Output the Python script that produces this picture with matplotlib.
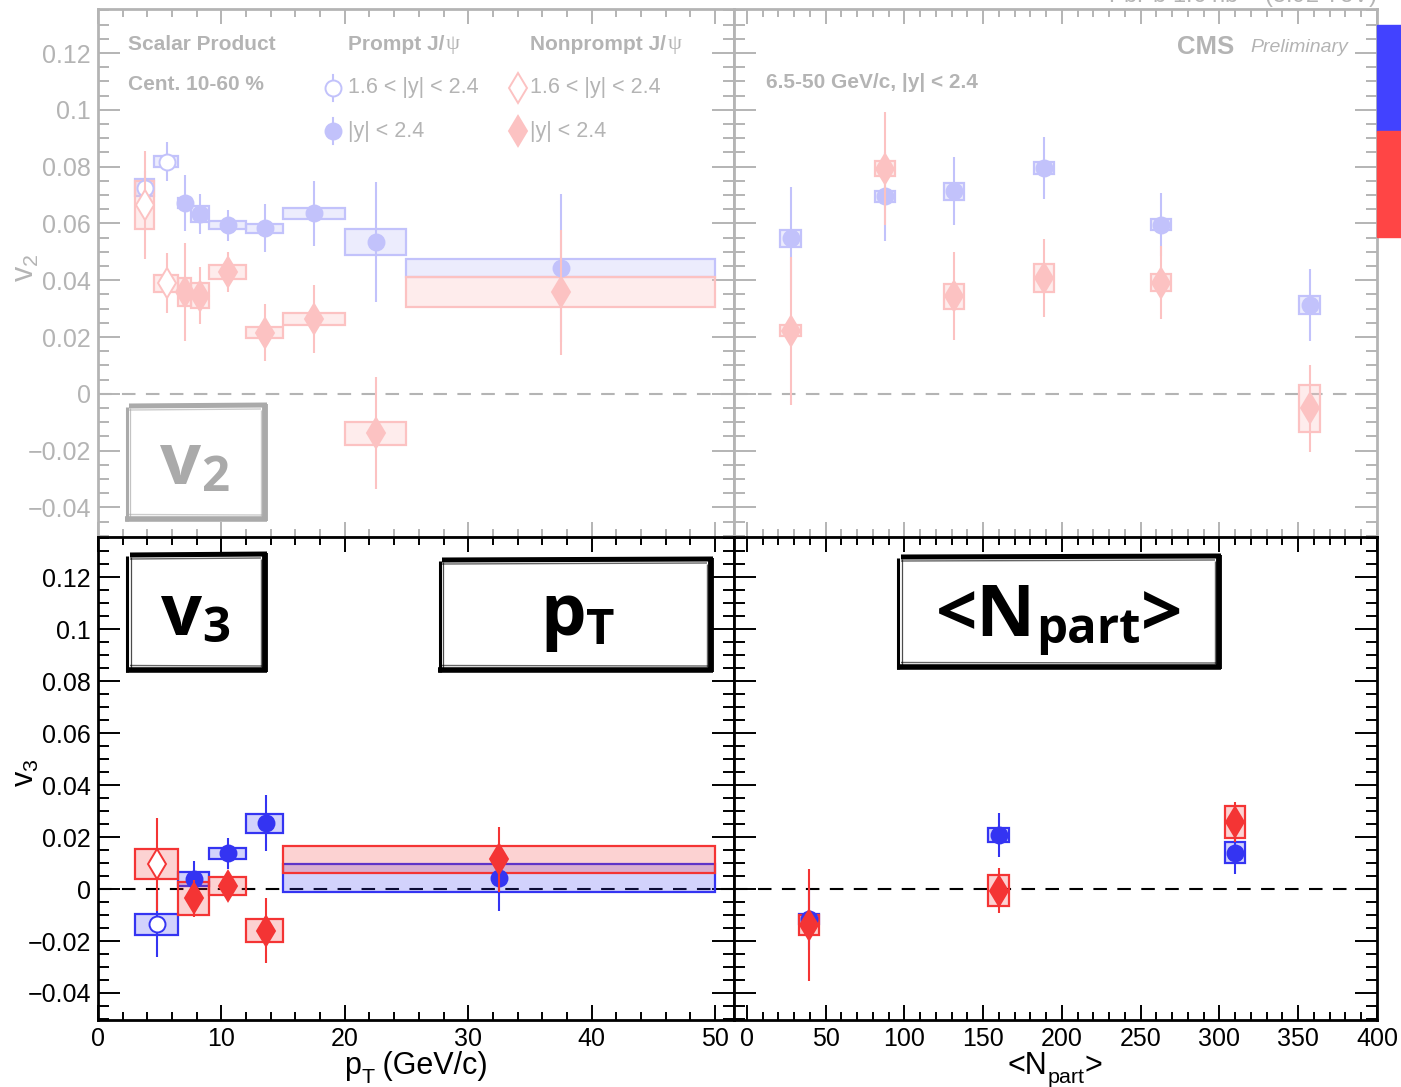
import matplotlib
matplotlib.use("Agg")
import matplotlib.pyplot as plt
from matplotlib.patches import Rectangle
from matplotlib.lines import Line2D
from matplotlib.ticker import MultipleLocator, FuncFormatter, NullFormatter

plt.rcParams['font.family'] = ['Liberation Sans', 'DejaVu Sans']

# ---------------- data ----------------
# v2 vs pT, forward rapidity 1.6<|y|<2.4
v2_pt_fwd = [3.8, 5.6]
v2_pt_fwd_lo = [3.0, 4.5]
v2_pt_fwd_hi = [4.5, 6.5]
v2_pt_fwd_prompt = [0.0725, 0.0818]
v2_pt_fwd_prompt_stat = [0.006, 0.0067]
v2_pt_fwd_prompt_sys = [0.003, 0.0018]
v2_pt_fwd_nonprompt = [0.0664, 0.039]
v2_pt_fwd_nonprompt_stat = [0.019, 0.0107]
v2_pt_fwd_nonprompt_sys = [0.0084, 0.003]

# v2 vs pT, |y|<2.4
v2_pt_mid = [7.05, 8.27, 10.5, 13.5, 17.5, 22.5, 37.5]
v2_pt_mid_lo = [6.5, 7.5, 9, 12, 15, 20, 25]
v2_pt_mid_hi = [7.5, 9, 12, 15, 20, 25, 50]
v2_pt_mid_prompt = [0.0672, 0.0633, 0.0593, 0.0583, 0.0635, 0.0535, 0.0443]
v2_pt_mid_prompt_stat = [0.0097, 0.0069, 0.0054, 0.0084, 0.0115, 0.021, 0.026]
v2_pt_mid_prompt_sys = [0.0018, 0.0029, 0.0014, 0.0015, 0.0021, 0.0046, 0.0033]
v2_pt_mid_nonprompt = [0.0358, 0.0346, 0.0429, 0.0216, 0.0265, -0.0139, 0.0358]
v2_pt_mid_nonprompt_stat = [0.0173, 0.0101, 0.007, 0.0099, 0.012, 0.0197, 0.022]
v2_pt_mid_nonprompt_sys = [0.0049, 0.0045, 0.0025, 0.002, 0.0021, 0.004, 0.0052]

# v2 vs <Npart>
v2_npart = [27.8, 87.8, 131.6, 188.6, 262.8, 357.3]
v2_npart_prompt = [0.0547, 0.0695, 0.0713, 0.0796, 0.0596, 0.0313]
v2_npart_prompt_stat = [0.0183, 0.0157, 0.012, 0.011, 0.011, 0.0127]
v2_npart_prompt_sys = [0.003, 0.0019, 0.0031, 0.0022, 0.0019, 0.0033]
v2_npart_nonprompt = [0.0222, 0.0793, 0.0344, 0.0407, 0.0392, -0.0051]
v2_npart_nonprompt_stat = [0.026, 0.02, 0.0154, 0.0138, 0.013, 0.0153]
v2_npart_nonprompt_sys = [0.002, 0.0027, 0.0044, 0.0049, 0.0029, 0.0082]

# v3 vs pT, forward rapidity
v3_pt_fwd = [4.8]
v3_pt_fwd_lo = [3.0]
v3_pt_fwd_hi = [6.5]
v3_pt_fwd_prompt = [-0.0135]
v3_pt_fwd_prompt_stat = [0.0125]
v3_pt_fwd_prompt_sys = [0.004]
v3_pt_fwd_nonprompt = [0.0095]
v3_pt_fwd_nonprompt_stat = [0.018]
v3_pt_fwd_nonprompt_sys = [0.0058]

# v3 vs pT, |y|<2.4
v3_pt_mid = [7.8, 10.56, 13.6, 32.5]
v3_pt_mid_lo = [6.5, 9, 12, 15]
v3_pt_mid_hi = [9, 12, 15, 50]
v3_pt_mid_prompt = [0.0038, 0.0137, 0.0253, 0.0043]
v3_pt_mid_prompt_stat = [0.007, 0.0058, 0.0108, 0.0126]
v3_pt_mid_prompt_sys = [0.0026, 0.0022, 0.0037, 0.0054]
v3_pt_mid_nonprompt = [-0.0036, 0.0012, -0.016, 0.0114]
v3_pt_mid_nonprompt_stat = [0.007, 0.0057, 0.0125, 0.0126]
v3_pt_mid_nonprompt_sys = [0.0062, 0.0033, 0.0043, 0.0053]

# v3 vs <Npart>
v3_npart = [39.5, 159.8, 309.8]
v3_npart_prompt = [-0.0115, 0.0208, 0.014]
v3_npart_prompt_stat = [0.012, 0.0085, 0.0082]
v3_npart_prompt_sys = [0.002, 0.0028, 0.004]
v3_npart_nonprompt = [-0.0138, -0.0006, 0.0258]
v3_npart_nonprompt_stat = [0.0217, 0.0086, 0.0077]
v3_npart_nonprompt_sys = [0.004, 0.0061, 0.006]

NPART_HALF_WIDTH = 6.5

# ---------------- style ----------------
W, H = 1401, 1087
BLUE = '#3434f2'
RED = '#f43434'
GRAY = '#b4b4b4'


def blend(c, f):
    r, g, b = matplotlib.colors.to_rgb(c)
    return (1 - f + f * r, 1 - f + f * g, 1 - f + f * b)


def fx(px):
    return px / W


def fy(py):
    return 1 - py / H


fig = plt.figure(figsize=(W / 100, H / 100), dpi=100)
renderer = fig.canvas.get_renderer()

XL0, XMID, XR1 = 98, 734, 1377
YT0, YMID, YB1 = 9, 537, 1020
ax_tl = fig.add_axes([fx(XL0), fy(YMID), (XMID - XL0) / W, (YMID - YT0) / H])
ax_tr = fig.add_axes([fx(XMID), fy(YMID), (XR1 - XMID) / W, (YMID - YT0) / H])
ax_bl = fig.add_axes([fx(XL0), fy(YB1), (XMID - XL0) / W, (YB1 - YMID) / H])
ax_br = fig.add_axes([fx(XMID), fy(YB1), (XR1 - XMID) / W, (YB1 - YMID) / H])

YLIM = (-0.0504, 0.1355)


def yfmt(v, pos):
    v = round(v, 5)
    if abs(v) < 1e-9:
        return '0'
    return ('%g' % v).replace('-', '\u2212')


def style(ax, faded, xmaj, xmin, xlim, show_x, show_y):
    col = GRAY if faded else 'black'
    ax.set_xlim(*xlim)
    ax.set_ylim(*YLIM)
    ax.xaxis.set_major_locator(MultipleLocator(xmaj))
    ax.xaxis.set_minor_locator(MultipleLocator(xmin))
    ax.yaxis.set_major_locator(MultipleLocator(0.02))
    ax.yaxis.set_minor_locator(MultipleLocator(0.005))
    ax.yaxis.set_major_formatter(FuncFormatter(yfmt))
    for s in ax.spines.values():
        s.set_color(col)
        s.set_linewidth(2.0)
    ax.tick_params(axis='both', which='both', direction='in', top=True, right=True,
                   color=col, labelcolor=col, width=1.4, labelsize=18, pad=5)
    ax.tick_params(axis='y', which='major', length=15.5)
    ax.tick_params(axis='y', which='minor', length=8)
    ax.tick_params(axis='x', which='major', length=10.5)
    ax.tick_params(axis='x', which='minor', length=5.5)
    if not show_x:
        ax.xaxis.set_major_formatter(NullFormatter())
    if not show_y:
        ax.yaxis.set_major_formatter(NullFormatter())
    ax.axhline(0, color=col, lw=1.5, ls=(0, (6.5, 5)), zorder=1)


style(ax_tl, True, 10, 2, (0, 51.54), False, True)
style(ax_tr, True, 50, 10, (-8.2, 400), False, False)
style(ax_bl, False, 10, 2, (0, 51.54), True, True)
style(ax_br, False, 50, 10, (-8.2, 400), True, False)


def boxes(ax, x, lo, hi, y, sys, edge, fill):
    for xi, l, h, yi, s in zip(x, lo, hi, y, sys):
        ax.add_patch(Rectangle((l, yi - s), h - l, 2 * s, facecolor=fill,
                               edgecolor=edge, lw=1.6, zorder=2))


def points(ax, x, y, stat, color, marker, ms, hollow, z):
    ax.errorbar(x, y, yerr=stat, fmt='none', ecolor=color, elinewidth=1.5, zorder=z)
    ax.plot(x, y, ls='none', marker=marker, ms=ms, mec=color, mew=1.4,
            mfc='white' if hollow else color, zorder=z + 1)


def panel(ax, faded, sets):
    if faded:
        cb, cr = blend(BLUE, 0.3), blend(RED, 0.3)
        fb, fr = (*blend(BLUE, 0.3), 0.3), (*blend(RED, 0.3), 0.3)
    else:
        cb, cr = BLUE, RED
        fb, fr = (*matplotlib.colors.to_rgb(BLUE), 0.22), (*matplotlib.colors.to_rgb(RED), 0.22)
    for kind, x, lo, hi, y, stat, sys, hollow in sets:
        if kind == 'p':
            boxes(ax, x, lo, hi, y, sys, cb, fb)
    for kind, x, lo, hi, y, stat, sys, hollow in sets:
        if kind == 'n':
            boxes(ax, x, lo, hi, y, sys, cr, fr)
    for kind, x, lo, hi, y, stat, sys, hollow in sets:
        if kind == 'p':
            points(ax, x, y, stat, cb, 'o', 11.5, hollow, 4)
    for kind, x, lo, hi, y, stat, sys, hollow in sets:
        if kind == 'n':
            points(ax, x, y, stat, cr, 'd', 15, hollow, 6)


def nbins(x):
    return [v - NPART_HALF_WIDTH for v in x], [v + NPART_HALF_WIDTH for v in x]


panel(ax_tl, True, [
    ('p', v2_pt_fwd, v2_pt_fwd_lo, v2_pt_fwd_hi, v2_pt_fwd_prompt, v2_pt_fwd_prompt_stat, v2_pt_fwd_prompt_sys, True),
    ('p', v2_pt_mid, v2_pt_mid_lo, v2_pt_mid_hi, v2_pt_mid_prompt, v2_pt_mid_prompt_stat, v2_pt_mid_prompt_sys, False),
    ('n', v2_pt_fwd, v2_pt_fwd_lo, v2_pt_fwd_hi, v2_pt_fwd_nonprompt, v2_pt_fwd_nonprompt_stat, v2_pt_fwd_nonprompt_sys, True),
    ('n', v2_pt_mid, v2_pt_mid_lo, v2_pt_mid_hi, v2_pt_mid_nonprompt, v2_pt_mid_nonprompt_stat, v2_pt_mid_nonprompt_sys, False),
])
lo2, hi2 = nbins(v2_npart)
panel(ax_tr, True, [
    ('p', v2_npart, lo2, hi2, v2_npart_prompt, v2_npart_prompt_stat, v2_npart_prompt_sys, False),
    ('n', v2_npart, lo2, hi2, v2_npart_nonprompt, v2_npart_nonprompt_stat, v2_npart_nonprompt_sys, False),
])
panel(ax_bl, False, [
    ('p', v3_pt_fwd, v3_pt_fwd_lo, v3_pt_fwd_hi, v3_pt_fwd_prompt, v3_pt_fwd_prompt_stat, v3_pt_fwd_prompt_sys, True),
    ('p', v3_pt_mid, v3_pt_mid_lo, v3_pt_mid_hi, v3_pt_mid_prompt, v3_pt_mid_prompt_stat, v3_pt_mid_prompt_sys, False),
    ('n', v3_pt_fwd, v3_pt_fwd_lo, v3_pt_fwd_hi, v3_pt_fwd_nonprompt, v3_pt_fwd_nonprompt_stat, v3_pt_fwd_nonprompt_sys, True),
    ('n', v3_pt_mid, v3_pt_mid_lo, v3_pt_mid_hi, v3_pt_mid_nonprompt, v3_pt_mid_nonprompt_stat, v3_pt_mid_nonprompt_sys, False),
])
lo3, hi3 = nbins(v3_npart)
panel(ax_br, False, [
    ('p', v3_npart, lo3, hi3, v3_npart_prompt, v3_npart_prompt_stat, v3_npart_prompt_sys, False),
    ('n', v3_npart, lo3, hi3, v3_npart_nonprompt, v3_npart_nonprompt_stat, v3_npart_nonprompt_sys, False),
])


def compose(parts, xc, yb, size, color, zorder=5, **kw):
    """Lay out text pieces left to right, centred on xc, with per-piece
    scale and baseline drop (in pixels)."""
    objs = []
    for s, sc, drop in parts:
        t = fig.text(0, fy(yb + drop), s, fontsize=size * sc, ha='left', va='baseline',
                     color=color, zorder=zorder, **kw)
        objs.append(t)
    widths = [t.get_window_extent(renderer).width for t in objs]
    x = xc - sum(widths) / 2
    for t, w in zip(objs, widths):
        t.set_x(fx(x))
        x += w
    return objs


# ---------------- axis titles ----------------
fig.text(fx(26), fy(268), r'$\mathregular{v_{2}}$', rotation=90, ha='center', va='center',
         fontsize=22, color=GRAY)
fig.text(fx(26), fy(773), r'$\mathregular{v_{3}}$', rotation=90, ha='center', va='center',
         fontsize=22, color='black')
compose([('p', 1, 0), ('T', 0.7, 9), (' (GeV/c)', 1, 0)], 416, 1074, 22, 'black')
compose([('<N', 1, 0), ('part', 0.7, 9), ('>', 1, 0)], 1055, 1074, 22, 'black')

# ---------------- annotations (faded row) ----------------
fig.text(fx(128), fy(45), 'Scalar Product', ha='left', va='center', fontsize=15,
         fontweight='bold', color=GRAY)
fig.text(fx(128), fy(84), 'Cent. 10-60 %', ha='left', va='center', fontsize=15,
         fontweight='bold', color=GRAY)
for x0, lab in [(348, 'Prompt J/'), (530, 'Nonprompt J/')]:
    t = fig.text(fx(x0), fy(44), lab, ha='left', va='center', fontsize=15,
                 fontweight='bold', color=GRAY)
    fig.add_artist(matplotlib.text.Annotation(
        '\u03c8', xy=(1, 0.5), xycoords=t, xytext=(1, 0), textcoords='offset points',
        ha='left', va='center', fontsize=16, color=GRAY, family='Liberation Serif',
        annotation_clip=False))

leg_entries = [
    (333, 88, 'o', 11.5, BLUE, True, 348, '1.6 < |y| < 2.4'),
    (333, 131, 'o', 11.5, BLUE, False, 348, '|y| < 2.4'),
    (518, 88, 'd', 15, RED, True, 530, '1.6 < |y| < 2.4'),
    (518, 131, 'd', 15, RED, False, 530, '|y| < 2.4'),
]
for mx, my, mk, ms, c, hollow, tx, lab in leg_entries:
    pc = blend(c, 0.3)
    fig.add_artist(Line2D([fx(mx), fx(mx)], [fy(my - 13), fy(my + 13)], color=pc, lw=1.5,
                          transform=fig.transFigure))
    fig.add_artist(Line2D([fx(mx)], [fy(my)], marker=mk, ms=ms, mec=pc, mew=1.4,
                          mfc='white' if hollow else pc, transform=fig.transFigure))
    fig.text(fx(tx), fy(my), lab, ha='left', va='center', fontsize=15.5, color=GRAY)

fig.text(fx(1177), fy(47), 'CMS', ha='left', va='center', fontsize=18.5, fontweight='bold', color=GRAY)
fig.text(fx(1250), fy(47), 'Preliminary', ha='left', va='center', fontsize=14, style='italic', color=GRAY)
fig.text(fx(766), fy(83), '6.5-50 GeV/c, |y| < 2.4', ha='left', va='center', fontsize=15,
         fontweight='bold', color=GRAY)
fig.text(fx(1377), fy(3), r'PbPb 1.6 nb$^{\mathregular{-1}}$ (5.02 TeV)', ha='right',
         va='baseline', fontsize=17, color=GRAY)

# side colour key
fig.add_artist(Rectangle((fx(1377), fy(131)), 24 / W, 106 / H, color='#4242ff',
                         transform=fig.transFigure, zorder=20))
fig.add_artist(Rectangle((fx(1377), fy(237)), 24 / W, 106 / H, color='#ff4545',
                         transform=fig.transFigure, zorder=20))


# ---------------- brush-framed labels ----------------
def brush_frame(x0, y0, x1, y1, color):
    def seg(xa, ya, xb, yb, w, a=1.0):
        fig.add_artist(Line2D([fx(xa), fx(xb)], [fy(ya), fy(yb)], color=color, lw=w,
                              alpha=a, solid_capstyle='butt', transform=fig.transFigure,
                              zorder=15))
    # heavy strokes
    seg(x0 + 4, y0 + 2, x1, y0 + 1, 3.6)
    seg(x1 - 2, y0, x1 - 2, y1, 4.2)
    seg(x0, y1 - 2, x1, y1 - 2, 4.0)
    seg(x0 + 1.5, y0 + 3, x0 + 1.5, y1, 2.2)
    # lighter inner strokes
    seg(x0 + 4, y0 + 6, x1 - 6, y0 + 5, 1.0, 0.6)
    seg(x0 + 5, y0 + 4, x0 + 5, y1 - 4, 0.9, 0.7)
    seg(x1 - 6.5, y0 + 6, x1 - 6.5, y1 - 5, 1.0, 0.6)
    seg(x0 + 4, y1 - 6.5, x1 - 5, y1 - 6, 1.0, 0.6)


brush_frame(125, 404, 267, 521, '#aaaaaa')
brush_frame(126, 553, 267, 672, 'black')
brush_frame(438, 558, 713, 672, 'black')
brush_frame(897, 555, 1221, 669, 'black')

big = dict(family='Open Sans', fontweight='bold')
compose([('v', 1, 0), ('2', 0.68, 7)], 195, 484, 52, '#aaaaaa', zorder=16, **big)
compose([('v', 1, 0), ('3', 0.68, 7)], 196, 635, 52, 'black', zorder=16, **big)
compose([('p', 1, 0), ('T', 0.68, 9)], 577, 635, 52, 'black', zorder=16, **big)
compose([('<N', 1, 0), ('part', 0.68, 7), ('>', 1, 0)], 1059, 636, 52, 'black', zorder=16, **big)

fig.savefig('out.png', dpi=100)
